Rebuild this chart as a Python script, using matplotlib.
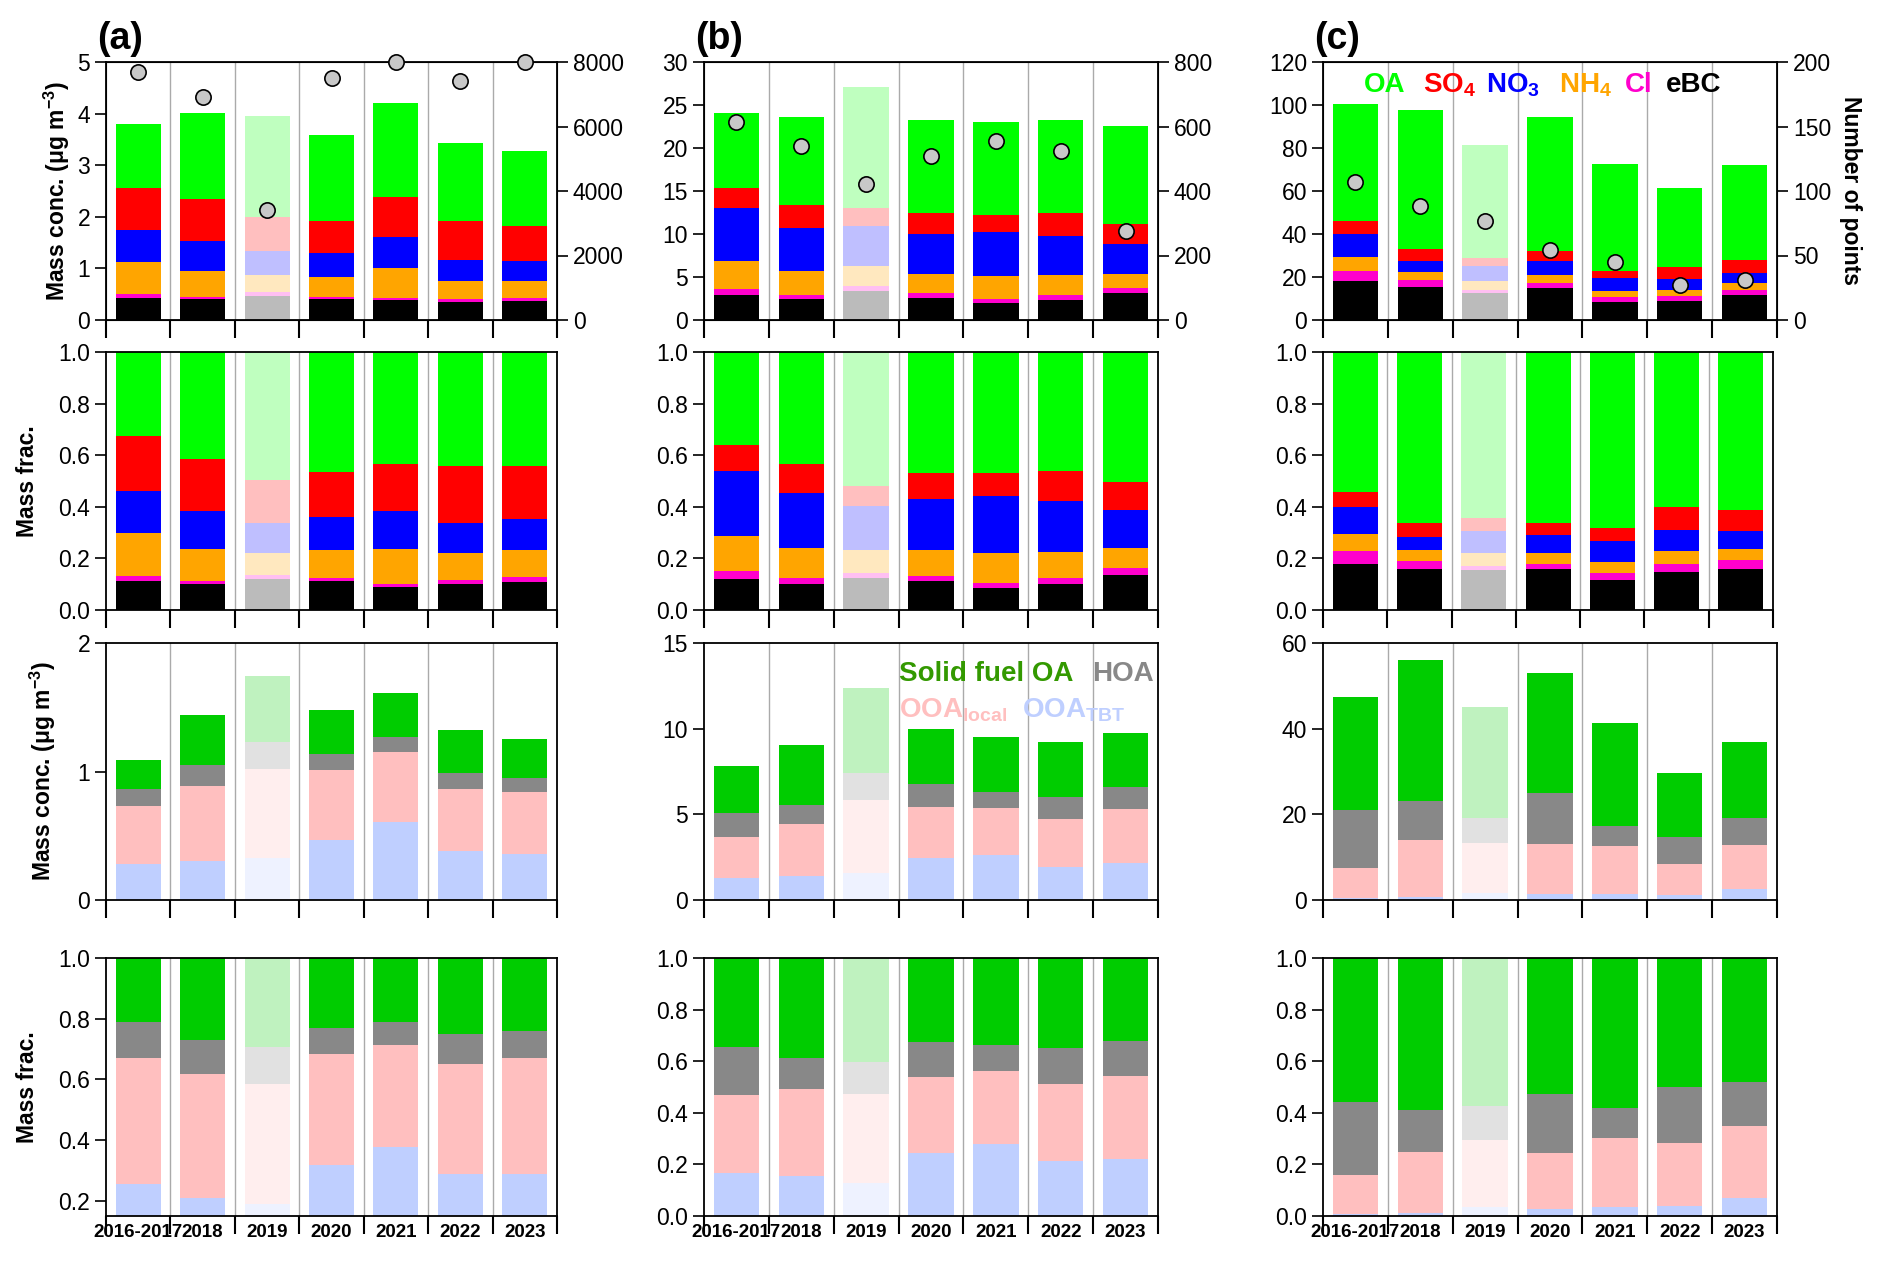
import matplotlib
matplotlib.use("Agg")
import matplotlib.pyplot as plt
import numpy as np

plt.rcParams['font.family'] = ['Liberation Sans', 'DejaVu Sans']
plt.rcParams['mathtext.fontset'] = 'custom'
plt.rcParams['mathtext.rm'] = 'Liberation Sans'
plt.rcParams['mathtext.bf'] = 'Liberation Sans:bold'

years = ["2016-2017", "2018", "2019", "2020", "2021", "2022", "2023"]

# Row 1: cumulative tops (eBC, Cl, NH4, NO3, SO4, OA) per year
a_cum = [[0.43, 0.50, 1.13, 1.75, 2.56, 3.80],
         [0.40, 0.45, 0.95, 1.54, 2.35, 4.02],
         [0.47, 0.54, 0.88, 1.33, 2.00, 3.96],
         [0.40, 0.45, 0.84, 1.29, 1.92, 3.59],
         [0.38, 0.43, 1.00, 1.61, 2.38, 4.21],
         [0.34, 0.40, 0.76, 1.16, 1.92, 3.43],
         [0.36, 0.42, 0.76, 1.15, 1.82, 3.27]]
b_cum = [[2.9, 3.6, 6.9, 13.0, 15.4, 24.1],
         [2.4, 2.9, 5.7, 10.7, 13.4, 23.6],
         [3.4, 3.9, 6.3, 10.9, 13.0, 27.1],
         [2.6, 3.1, 5.4, 10.0, 12.4, 23.3],
         [2.0, 2.4, 5.1, 10.2, 12.2, 23.0],
         [2.3, 2.9, 5.2, 9.8, 12.5, 23.2],
         [3.1, 3.7, 5.4, 8.8, 11.2, 22.6]]
c_cum = [[18.0, 23.0, 29.5, 40.0, 46.0, 100.5],
         [15.5, 18.5, 22.5, 27.5, 33.0, 97.5],
         [12.5, 14.0, 18.0, 25.0, 29.0, 81.5],
         [15.0, 17.0, 21.0, 27.5, 32.0, 94.5],
         [8.5, 10.5, 13.5, 19.5, 23.0, 72.5],
         [9.0, 11.0, 14.0, 19.0, 24.5, 61.5],
         [11.5, 14.0, 17.0, 22.0, 28.0, 72.0]]
a_points = [7700, 6900, 3400, 7500, 8000, 7400, 8000]
b_points = [613, 541, 421, 509, 555, 525, 277]
c_points = [107, 88, 77, 54, 45, 27.5, 31]

# Row 3: cumulative tops (OOA_TBT, OOA_local, HOA, Solid fuel OA)
a_oa = [[0.28, 0.73, 0.86, 1.09], [0.30, 0.89, 1.05, 1.44], [0.33, 1.02, 1.23, 1.74],
        [0.47, 1.01, 1.14, 1.48], [0.61, 1.15, 1.27, 1.61], [0.38, 0.86, 0.99, 1.32],
        [0.36, 0.84, 0.95, 1.25]]
b_oa = [[1.3, 3.65, 5.1, 7.8], [1.4, 4.45, 5.55, 9.05], [1.6, 5.85, 7.4, 12.4],
        [2.45, 5.4, 6.75, 10.0], [2.65, 5.35, 6.3, 9.5], [1.95, 4.7, 6.0, 9.2],
        [2.15, 5.3, 6.6, 9.75]]
c_oa = [[0.4, 7.5, 21.0, 47.5], [0.6, 14.0, 23.0, 56.0], [1.6, 13.2, 19.2, 45.0],
        [1.5, 13.0, 25.0, 53.0], [1.4, 12.5, 17.3, 41.3], [1.2, 8.4, 14.8, 29.7],
        [2.5, 12.8, 19.1, 36.8]]

comp_colors = ['#000000', '#FF00CC', '#FFA500', '#0000FF', '#FF0000', '#00FF00']
oa_colors = ['#BFCFFF', '#FFBFBF', '#888888', '#00CC00']

W, H = 1892, 1262
fig = plt.figure(figsize=(W/100, H/100), dpi=100)

def ax_at(l, t, r, b):
    return fig.add_axes([l/W, 1-b/H, (r-l)/W, (b-t)/H])

cols = [(106, 557), (704, 1158), (1323, 1777)]
rows = [(62, 320), (352, 610), (643, 900), (958, 1216)]
FS = 16.5
x = np.arange(7) + 0.5

def style(ax, ylim, yticks, ylabels, last):
    ax.set_xlim(0, 7)
    ax.set_ylim(*ylim)
    ax.set_yticks(yticks)
    ax.set_yticklabels(ylabels, fontsize=FS)
    ax.set_xticks(range(8))
    ax.set_xticklabels([])
    ax.tick_params(axis='x', which='major', direction='out', length=13, width=1.5)
    ax.tick_params(axis='y', direction='out', length=8, width=1.2)
    ax.set_xticks(x, minor=True)
    ax.tick_params(axis='x', which='minor', length=0, pad=6)
    if last:
        ax.set_xticklabels(years, minor=True, fontsize=13.5, fontweight='bold')
    for b in range(1, 7):
        ax.axvline(b, color='#aaaaaa', lw=1, zorder=0)
    for s in ax.spines.values():
        s.set_linewidth(1.3)

def stack(ax, cums, colors, frac):
    for i, cum in enumerate(cums):
        cum = np.array(cum, dtype=float)
        if frac:
            cum = cum / cum[-1]
        bottoms = np.concatenate([[0], cum[:-1]])
        for k in range(len(cum)):
            c = colors[k]
            a = 0.25 if i == 2 else 1.0
            if i == 2 and k == 0 and colors is comp_colors:
                c = '#BBBBBB'; a = 1.0
            ax.bar(x[i], cum[k]-bottoms[k], bottom=bottoms[k], width=0.7,
                   color=c, alpha=a, linewidth=0, zorder=2)

panels = [
    (a_cum, a_points, a_oa, (0, 5), [0, 1, 2, 3, 4, 5], (0, 8000), [0, 2000, 4000, 6000, 8000], (0, 2), [0, 1, 2], (0.15, 1.0)),
    (b_cum, b_points, b_oa, (0, 30), [0, 5, 10, 15, 20, 25, 30], (0, 800), [0, 200, 400, 600, 800], (0, 15), [0, 5, 10, 15], (0, 1.0)),
    (c_cum, c_points, c_oa, (0, 120), [0, 20, 40, 60, 80, 100, 120], (0, 200), [0, 50, 100, 150, 200], (0, 60), [0, 20, 40, 60], (0, 1.0)),
]
fracticks = [0.0, 0.2, 0.4, 0.6, 0.8, 1.0]

for j, (cum, pts, oa, yl1, yt1, yr, ytr, yl3, yt3, yl4) in enumerate(panels):
    l, r = cols[j]
    ax1 = ax_at(l, rows[0][0], r, rows[0][1])
    stack(ax1, cum, comp_colors, False)
    style(ax1, yl1, yt1, [str(v) for v in yt1], False)
    ax1r = ax1.twinx()
    ax1r.set_ylim(*yr)
    ax1r.set_yticks(ytr)
    ax1r.set_yticklabels([str(v) for v in ytr], fontsize=FS)
    ax1r.tick_params(axis='y', direction='out', length=8, width=1.2)
    ax1r.plot(x, pts, 'o', ms=11, mfc='#C8C8C8', mec='black', mew=1.2, zorder=5, clip_on=False)
    ax1.text(-0.02, 1.02, '(' + 'abc'[j] + ')', transform=ax1.transAxes, fontsize=27, fontweight='bold', va='bottom', ha='left')

    ax2 = ax_at(l, rows[1][0], r - (4 if j == 2 else 0), rows[1][1])
    stack(ax2, cum, comp_colors, True)
    style(ax2, (0, 1), fracticks, ['%.1f' % v for v in fracticks], False)

    ax3 = ax_at(l, rows[2][0], r, rows[2][1])
    stack(ax3, oa, oa_colors, False)
    style(ax3, yl3, yt3, [str(v) for v in yt3], False)

    ax4 = ax_at(l, rows[3][0], r, rows[3][1])
    stack(ax4, oa, oa_colors, True)
    t4 = [0.2, 0.4, 0.6, 0.8, 1.0] if j == 0 else fracticks
    style(ax4, yl4, t4, ['%.1f' % v for v in t4], True)

    if j == 0:
        ax1.set_ylabel('Mass conc. ($\\mathregular{\\mu}$g m$^{\\mathregular{-3}}$)', fontsize=FS, fontweight='bold')
        ax2.set_ylabel('Mass frac.', fontsize=FS, fontweight='bold', labelpad=14)
        ax3.set_ylabel('Mass conc. ($\\mathregular{\\mu}$g m$^{\\mathregular{-3}}$)', fontsize=FS, fontweight='bold', labelpad=14)
        ax4.set_ylabel('Mass frac.', fontsize=FS, fontweight='bold', labelpad=14)
    if j == 2:
        ax1r.set_ylabel('Number of points', fontsize=FS, fontweight='bold', rotation=270, labelpad=22)
        leg = [('OA', '#00FF00', 0.09), ('SO$_\\mathbf{4}$', '#FF0000', 0.22), ('NO$_\\mathbf{3}$', '#0000FF', 0.36),
               ('NH$_\\mathbf{4}$', '#FFA500', 0.52), ('Cl', '#FF00CC', 0.665), ('eBC', '#000000', 0.755)]
        for t, c, xp in leg:
            ax1.text(xp, 0.91, t, color=c, transform=ax1.transAxes, fontsize=20, fontweight='bold', va='center')
    if j == 1:
        ax3.text(0.43, 0.88, 'Solid fuel OA', color='#339900', transform=ax3.transAxes, fontsize=20, fontweight='bold', va='center')
        ax3.text(0.855, 0.88, 'HOA', color='#888888', transform=ax3.transAxes, fontsize=20, fontweight='bold', va='center')
        ax3.text(0.43, 0.74, 'OOA$_{\\mathbf{local}}$', color='#FFBFBF', transform=ax3.transAxes, fontsize=20, fontweight='bold', va='center')
        ax3.text(0.7, 0.74, 'OOA$_{\\mathbf{TBT}}$', color='#BFCFFF', transform=ax3.transAxes, fontsize=20, fontweight='bold', va='center')

fig.savefig('out.png', dpi=100)
